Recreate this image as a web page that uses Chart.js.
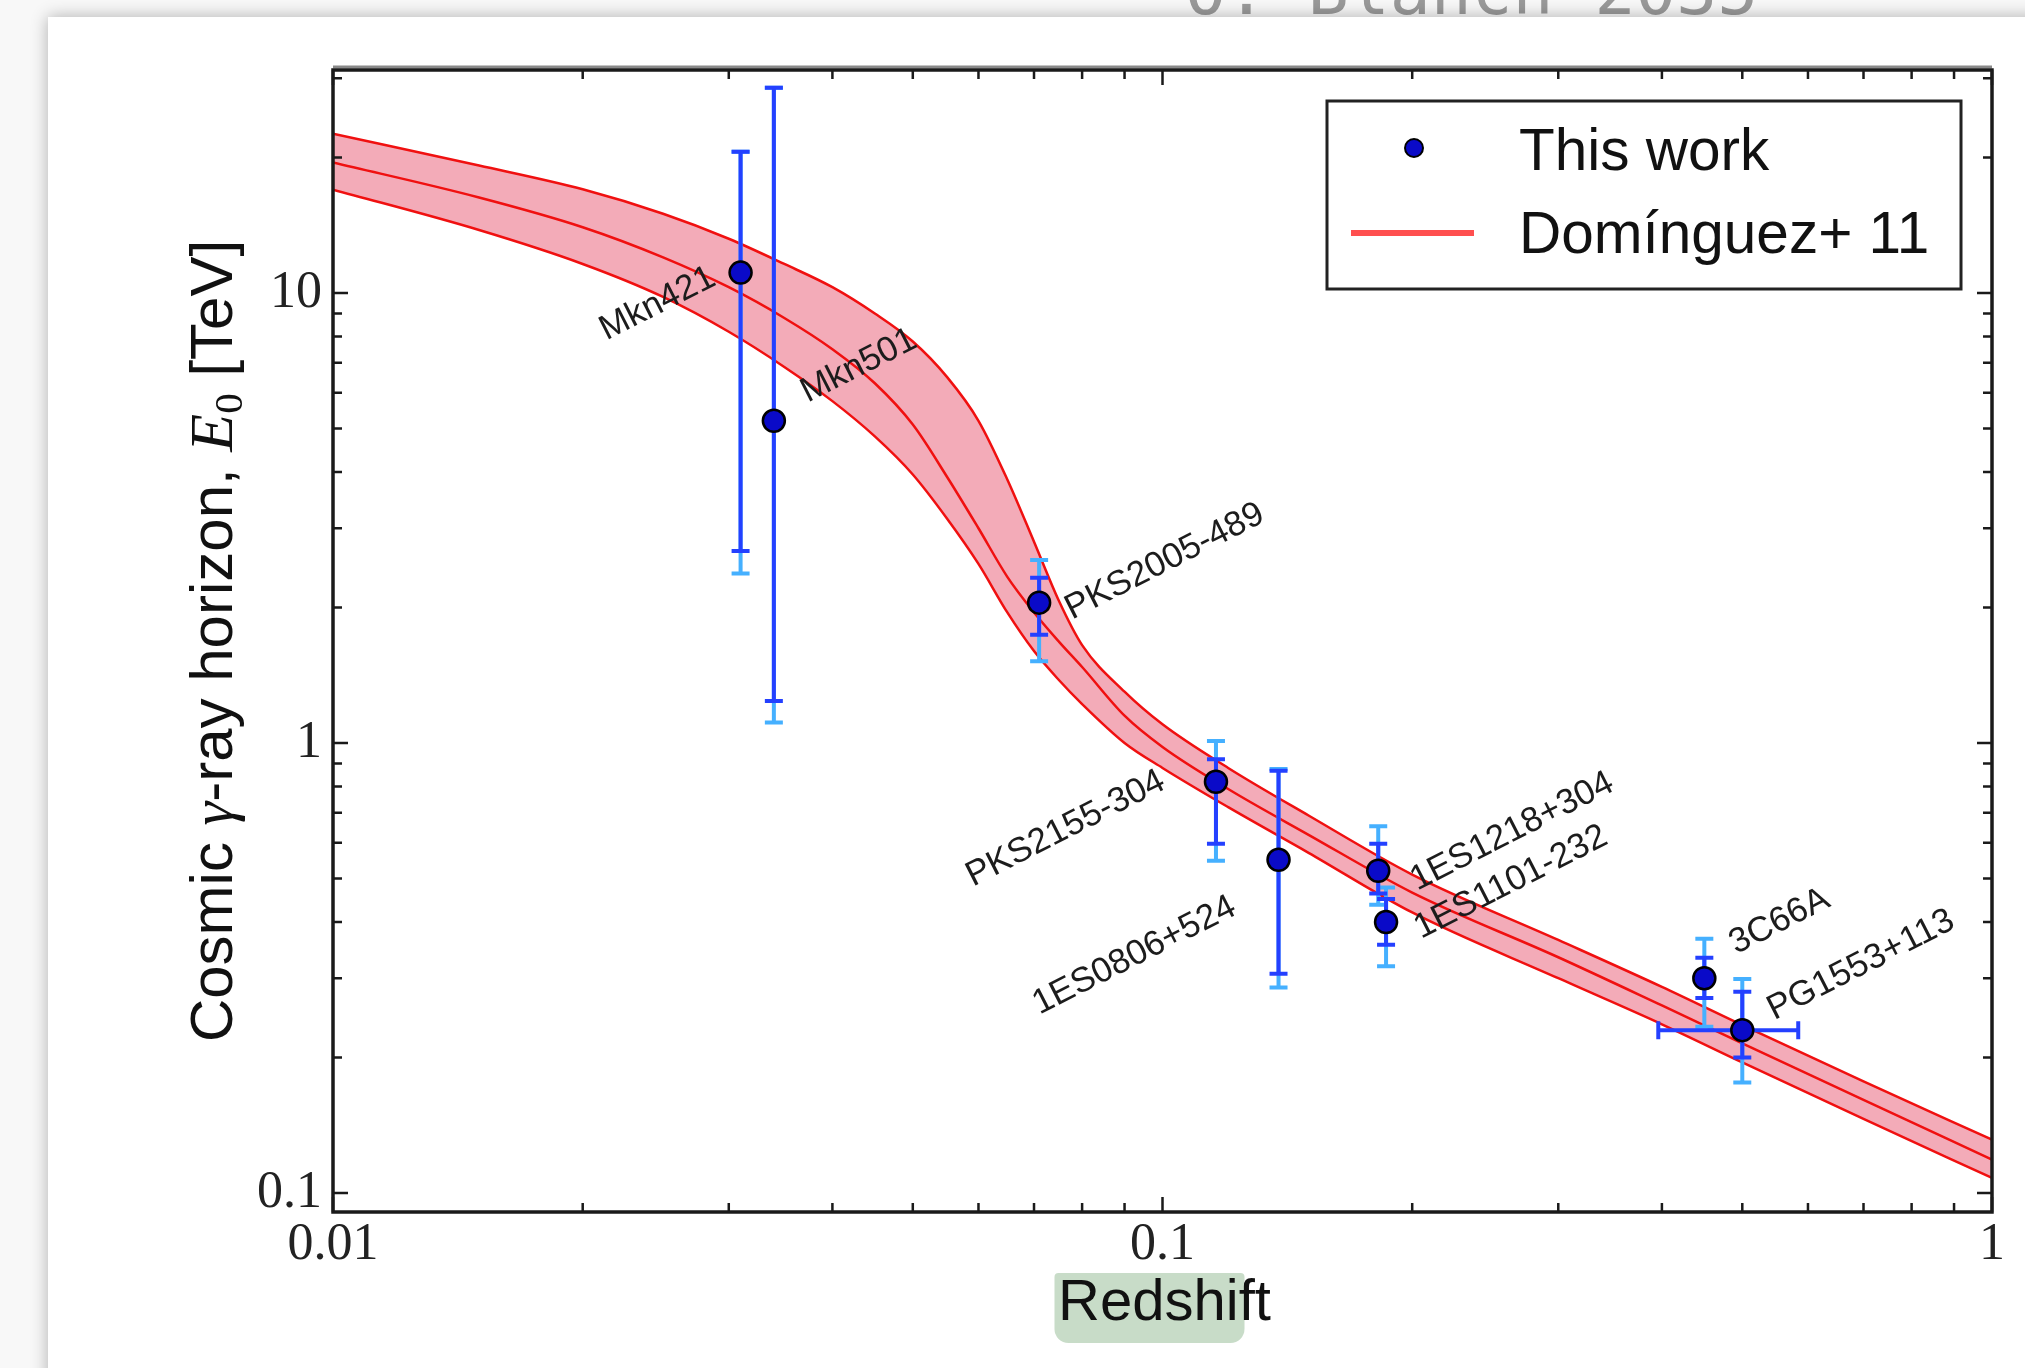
<!DOCTYPE html>
<html>
<head>
<meta charset="utf-8">
<title>Cosmic gamma-ray horizon</title>
<script src="https://cdn.jsdelivr.net/npm/chart.js@4.4.1/dist/chart.umd.min.js"></script>
<style>
  html, body { margin: 0; padding: 0; background: #f8f8f8; overflow: hidden; }
  #stamp { position: absolute; left: 1185px; top: -43px; font: 68px "DejaVu Sans Mono", monospace; line-height: 68px; color: #9a9a9a; white-space: pre; }
  #card { position: absolute; left: 48px; top: 17px; width: 2100px; height: 1450px; background: #fff; box-shadow: 0 0 16px rgba(0, 0, 0, 0.3); }
  #wrap { position: absolute; left: 0; top: 0; width: 2025px; height: 1368px; }
</style>
</head>
<body>
<div id="stamp">O. Blanch 2035</div>
<div id="card"></div>
<div id="wrap"><canvas id="horizonChart" width="2025" height="1368"></canvas></div>
<script>
// measured sources
const sourceNames = ["Mkn421", "Mkn501", "PKS2005-489", "PKS2155-304", "1ES0806+524", "1ES1218+304", "1ES1101-232", "3C66A", "PG1553+113"];
const redshift = [0.031, 0.034, 0.071, 0.116, 0.138, 0.182, 0.186, 0.45, 0.50];
const horizonE0 = [11.1, 5.2, 2.05, 0.82, 0.55, 0.52, 0.40, 0.30, 0.23];
// statistical error (dark bars)
const statHigh = [20.6, 28.6, 2.33, 0.92, 0.867, 0.597, 0.45, 0.333, 0.28];
const statLow = [2.67, 1.24, 1.74, 0.597, 0.307, 0.463, 0.356, 0.271, 0.20];
// stat + syst (light bars)
const totHigh = [20.6, 28.6, 2.55, 1.01, 0.875, 0.653, 0.477, 0.367, 0.299];
const totLow = [2.38, 1.11, 1.52, 0.547, 0.286, 0.437, 0.319, 0.234, 0.176];
// redshift range, only known for PG1553+113
const zLow = [null, null, null, null, null, null, null, null, 0.396];
const zHigh = [null, null, null, null, null, null, null, null, 0.584];

// Dominguez+ 11 horizon and its uncertainty band
const bandZ = [0.01, 0.015, 0.02, 0.025, 0.03, 0.035, 0.04, 0.045, 0.05, 0.055, 0.06, 0.065, 0.07, 0.075, 0.08, 0.09, 0.1, 0.12, 0.15, 0.2, 0.3, 0.4, 0.5, 0.7, 1.0];
const bandMid = [19.5, 16.3, 14.0, 12.0, 10.3, 8.8, 7.5, 6.3, 5.1, 3.9, 3.0, 2.34, 1.95, 1.68, 1.475, 1.15, 0.98, 0.79, 0.625, 0.465, 0.334, 0.261, 0.215, 0.161, 0.1186];
const bandHigh = [22.6, 19.2, 17.0, 15.0, 13.2, 11.6, 10.3, 9.0, 7.8, 6.5, 5.2, 3.85, 2.8, 2.07, 1.65, 1.3, 1.1, 0.88, 0.69, 0.51, 0.365, 0.287, 0.236, 0.177, 0.1313];
const bandLow = [16.97, 13.8, 11.6, 9.8, 8.2, 6.85, 5.75, 4.8, 3.95, 3.15, 2.5, 1.95, 1.6, 1.38, 1.22, 1.0, 0.88, 0.72, 0.57, 0.42, 0.30, 0.237, 0.195, 0.146, 0.108];

// axis ticks
const xTickValues = [0.01, 0.1, 1];
const xTickLabels = ["0.01", "0.1", "1"];
const yTickValues = [0.1, 1, 10];
const yTickLabels = ["0.1", "1", "10"];
const xMinorTicks = [0.02, 0.03, 0.04, 0.05, 0.06, 0.07, 0.08, 0.09, 0.2, 0.3, 0.4, 0.5, 0.6, 0.7, 0.8, 0.9];
const yMinorTicks = [0.2, 0.3, 0.4, 0.5, 0.6, 0.7, 0.8, 0.9, 2, 3, 4, 5, 6, 7, 8, 9, 20, 30];

// where each source name sits relative to its marker (px), text rotated 27 deg
const labelOffsets = [[-134, 68], [34, -18], [33, 17], [-243, 105], [-239, 155], [39, 20], [35, 17], [32, -24], [32, -10]];

const toXY = (xs, ys) => xs.map((v, i) => ({ x: v, y: ys[i] }));

const SANS = '"Liberation Sans", Arial, sans-serif';
const SERIF = '"Liberation Serif", "Times New Roman", serif';
const RED = '#f01010';

// error bars, under the markers
const errorBars = {
  id: 'errorBars',
  beforeDatasetDraw(chart, args) {
    if (args.index !== 0) return;
    const { ctx, scales: { x, y } } = chart;
    const cap = 9;
    ctx.save();
    ctx.lineWidth = 4;
    const vbar = (px, lo, hi, color) => {
      const y1 = y.getPixelForValue(lo), y2 = y.getPixelForValue(hi);
      ctx.strokeStyle = color;
      ctx.beginPath();
      ctx.moveTo(px, y1); ctx.lineTo(px, y2);
      ctx.moveTo(px - cap, y1); ctx.lineTo(px + cap, y1);
      ctx.moveTo(px - cap, y2); ctx.lineTo(px + cap, y2);
      ctx.stroke();
    };
    redshift.forEach((z, i) => vbar(x.getPixelForValue(z), totLow[i], totHigh[i], '#45b0ff'));
    redshift.forEach((z, i) => vbar(x.getPixelForValue(z), statLow[i], statHigh[i], '#2440ff'));
    // horizontal redshift range
    redshift.forEach((z, i) => {
      if (zLow[i] == null) return;
      const py = y.getPixelForValue(horizonE0[i]);
      const x1 = x.getPixelForValue(zLow[i]), x2 = x.getPixelForValue(zHigh[i]);
      ctx.strokeStyle = '#2440ff';
      ctx.beginPath();
      ctx.moveTo(x1, py); ctx.lineTo(x2, py);
      ctx.moveTo(x1, py - cap); ctx.lineTo(x1, py + cap);
      ctx.moveTo(x2, py - cap); ctx.lineTo(x2, py + cap);
      ctx.stroke();
    });
    ctx.restore();
  }
};

// rotated source names
const sourceLabels = {
  id: 'sourceLabels',
  afterDatasetsDraw(chart) {
    const { ctx, scales: { x, y } } = chart;
    ctx.save();
    ctx.font = '35px ' + SANS;
    ctx.fillStyle = '#1c1c1c';
    ctx.textBaseline = 'alphabetic';
    sourceNames.forEach((name, i) => {
      const px = x.getPixelForValue(redshift[i]) + labelOffsets[i][0];
      const py = y.getPixelForValue(horizonE0[i]) + labelOffsets[i][1];
      ctx.save();
      ctx.translate(px, py);
      ctx.rotate(-27 * Math.PI / 180);
      ctx.fillText(name, 0, 0);
      ctx.restore();
    });
    ctx.restore();
  }
};

// box frame with inward ticks on all four sides
const frameTicks = {
  id: 'frameTicks',
  afterDraw(chart) {
    const { ctx, chartArea: a, scales: { x, y } } = chart;
    ctx.save();
    ctx.strokeStyle = '#1a1a1a';
    ctx.lineWidth = 2.5;
    ctx.beginPath();
    const xt = (v, len) => {
      const px = x.getPixelForValue(v);
      ctx.moveTo(px, a.bottom); ctx.lineTo(px, a.bottom - len);
      ctx.moveTo(px, a.top); ctx.lineTo(px, a.top + len);
    };
    const yt = (v, len) => {
      const py = y.getPixelForValue(v);
      ctx.moveTo(a.left, py); ctx.lineTo(a.left + len, py);
      ctx.moveTo(a.right, py); ctx.lineTo(a.right - len, py);
    };
    xTickValues.forEach(v => xt(v, 15));
    xMinorTicks.forEach(v => xt(v, 9));
    yTickValues.forEach(v => yt(v, 15));
    yMinorTicks.forEach(v => yt(v, 9));
    ctx.stroke();
    ctx.lineWidth = 3.5;
    ctx.strokeRect(a.left, a.top, a.right - a.left, a.bottom - a.top);
    // top edge is drawn heavier
    ctx.strokeStyle = 'rgba(40, 40, 40, 0.55)';
    ctx.lineWidth = 3;
    ctx.beginPath();
    ctx.moveTo(a.left, a.top - 3);
    ctx.lineTo(a.right, a.top - 3);
    ctx.stroke();
    ctx.restore();
  }
};

// axis titles (the y title mixes sans text with italic math symbols)
const axisTitles = {
  id: 'axisTitles',
  afterDraw(chart) {
    const { ctx, chartArea: a } = chart;
    ctx.save();
    ctx.fillStyle = '#111';
    ctx.textBaseline = 'alphabetic';

    const parts = [
      { t: 'Cosmic ', f: '60px ' + SANS, dy: 0 },
      { t: '\u03b3', f: 'italic 60px ' + SERIF, dy: 0 },
      { t: '-ray horizon, ', f: '60px ' + SANS, dy: 0 },
      { t: 'E', f: 'italic 62px ' + SERIF, dy: 0 },
      { t: '0', f: '41px ' + SERIF, dy: 10 },
      { t: ' [TeV]', f: '60px ' + SANS, dy: 0 }
    ];
    let total = 0;
    parts.forEach(p => { ctx.font = p.f; p.w = ctx.measureText(p.t).width; total += p.w; });
    ctx.translate(232, (a.top + a.bottom) / 2);
    ctx.rotate(-Math.PI / 2);
    let cx = -total / 2;
    parts.forEach(p => { ctx.font = p.f; ctx.fillText(p.t, cx, p.dy); cx += p.w; });
    ctx.setTransform(1, 0, 0, 1, 0, 0);

    // highlighted x title
    const mid = (a.left + a.right) / 2;
    ctx.fillStyle = '#c8dcc8';
    ctx.beginPath();
    ctx.roundRect(mid - 108, 1273, 190, 70, [4, 4, 14, 14]);
    ctx.fill();
    ctx.fillStyle = '#111';
    ctx.font = '58px ' + SANS;
    ctx.textAlign = 'center';
    ctx.fillText('Redshift', mid + 2, 1320);
    ctx.restore();
  }
};

// legend box in the upper right corner of the plot
const cornerLegend = {
  id: 'cornerLegend',
  afterDraw(chart) {
    const { ctx, chartArea: a } = chart;
    const pts = chart.data.datasets[0];
    const mid = chart.data.datasets[2];
    const left = a.right - 665, top = a.top + 31, w = 634, h = 188;
    ctx.save();
    ctx.fillStyle = '#fff';
    ctx.fillRect(left, top, w, h);
    ctx.strokeStyle = '#222';
    ctx.lineWidth = 3;
    ctx.strokeRect(left, top, w, h);

    ctx.beginPath();
    ctx.arc(left + 87, top + 47, 9, 0, Math.PI * 2);
    ctx.fillStyle = pts.backgroundColor;
    ctx.fill();
    ctx.lineWidth = 2;
    ctx.strokeStyle = pts.borderColor;
    ctx.stroke();

    ctx.strokeStyle = '#ff4f4f';
    ctx.lineWidth = 6;
    ctx.beginPath();
    ctx.moveTo(left + 24, top + 132);
    ctx.lineTo(left + 147, top + 132);
    ctx.stroke();

    ctx.fillStyle = '#111';
    ctx.font = '58.5px ' + SANS;
    ctx.textBaseline = 'alphabetic';
    ctx.fillText(pts.label, left + 192, top + 69);
    ctx.fillText(mid.label, left + 192, top + 152);
    ctx.restore();
  }
};

const bandLine = {
  showLine: true,
  borderColor: RED,
  borderWidth: 2.5,
  pointRadius: 0,
  cubicInterpolationMode: 'monotone'
};

new Chart(document.getElementById('horizonChart'), {
  type: 'line',
  data: {
    datasets: [
      {
        label: 'This work',
        data: toXY(redshift, horizonE0),
        showLine: false,
        pointRadius: 11,
        pointBorderWidth: 2.5,
        backgroundColor: '#0a0ac8',
        borderColor: '#000'
      },
      Object.assign({ label: 'upper', data: toXY(bandZ, bandHigh), fill: 3, backgroundColor: 'rgba(242, 162, 176, 0.9)' }, bandLine),
      Object.assign({ label: 'Dom\u00ednguez+ 11', data: toXY(bandZ, bandMid), fill: false }, bandLine),
      Object.assign({ label: 'lower', data: toXY(bandZ, bandLow), fill: false }, bandLine)
    ]
  },
  options: {
    responsive: false,
    animation: false,
    events: [],
    devicePixelRatio: 1,
    layout: { padding: { top: 70, right: 33, left: 0, bottom: 0 } },
    plugins: {
      legend: { display: false },
      tooltip: { enabled: false },
      filler: { drawTime: 'beforeDatasetsDraw' }
    },
    scales: {
      x: {
        type: 'logarithmic',
        min: 0.01,
        max: 1,
        grid: { display: false, drawTicks: false },
        border: { display: false },
        afterBuildTicks: axis => { axis.ticks = xTickValues.map(v => ({ value: v })); },
        afterFit: axis => { axis.height = 156; },
        ticks: {
          autoSkip: false,
          maxRotation: 0,
          padding: 2,
          color: '#222',
          font: { family: 'Liberation Serif', size: 52 },
          callback: (v, i) => xTickLabels[i]
        }
      },
      y: {
        type: 'logarithmic',
        min: 0.0907,
        max: 31.3,
        grid: { display: false, drawTicks: false },
        border: { display: false },
        afterBuildTicks: axis => { axis.ticks = yTickValues.map(v => ({ value: v })); },
        afterFit: axis => { axis.width = 333; },
        ticks: {
          autoSkip: false,
          padding: 11,
          color: '#222',
          font: { family: 'Liberation Serif', size: 52 },
          callback: (v, i) => yTickLabels[i]
        }
      }
    }
  },
  plugins: [errorBars, sourceLabels, frameTicks, axisTitles, cornerLegend]
});
</script>
</body>
</html>
